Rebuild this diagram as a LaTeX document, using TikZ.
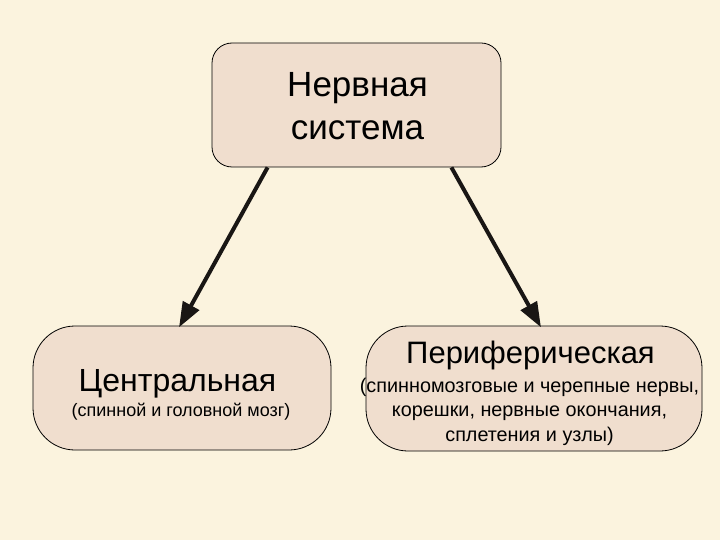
\documentclass[tikz,border=0pt]{standalone}
\usepackage{fontspec}
\setmainfont{Liberation Sans}
\usetikzlibrary{arrows.meta}
\definecolor{bg}{RGB}{251,243,222}
\definecolor{boxfill}{RGB}{240,222,206}
\definecolor{arr}{RGB}{25,22,20}
\tikzset{
  box/.style={draw=black, line width=0.8pt, fill=boxfill, inner sep=0pt},
  arrowline/.style={draw=arr, line width=4pt, -{Triangle[length=25pt,width=18pt]}, shorten >=-2pt},
  txt/.style={inner sep=0pt, align=center, text=black}
}
\begin{document}
\begin{tikzpicture}[x=1pt,y=-1pt]
\fill[bg] (0,0) rectangle (720,540);
\useasboundingbox (0,0) rectangle (720,540);
\node[box, rounded corners=20pt, minimum width=289pt, minimum height=124pt] (top) at (356.5,105) {};
\node[box, rounded corners=42pt, minimum width=298pt, minimum height=124pt] (left) at (182,388) {};
\node[box, rounded corners=42pt, minimum width=336pt, minimum height=125pt] (right) at (534,388.5) {};
\node[txt, font=\fontsize{35}{43}\selectfont, anchor=base] (toptxt) at (357.5,140) {Нервная\\система};
\node[txt, font=\fontsize{32}{36}\selectfont, anchor=base] (lefttitle) at (177.5,391) {Центральная};
\node[txt, font=\fontsize{18}{22}\selectfont, anchor=base] (leftsub) at (181,416) {(спинной и головной мозг)};
\node[txt, font=\fontsize{31}{36}\selectfont, anchor=base] (righttitle) at (530.5,363) {Периферическая};
\node[txt, font=\fontsize{19.8}{24.5}\selectfont, anchor=base] (rightsub) at (529.5,441) {(спинномозговые и черепные нервы,\\корешки, нервные окончания,\\сплетения и узлы)};
\coordinate (a1s) at ([xshift=56pt]top.south west);
\coordinate (a1e) at ([xshift=-2pt]left.north);
\coordinate (a2s) at ([xshift=-50pt]top.south east);
\coordinate (a2e) at ([xshift=6pt]right.north);
\draw[arrowline] (a1s) -- (a1e);
\draw[arrowline] (a2s) -- (a2e);
\end{tikzpicture}
\end{document}
